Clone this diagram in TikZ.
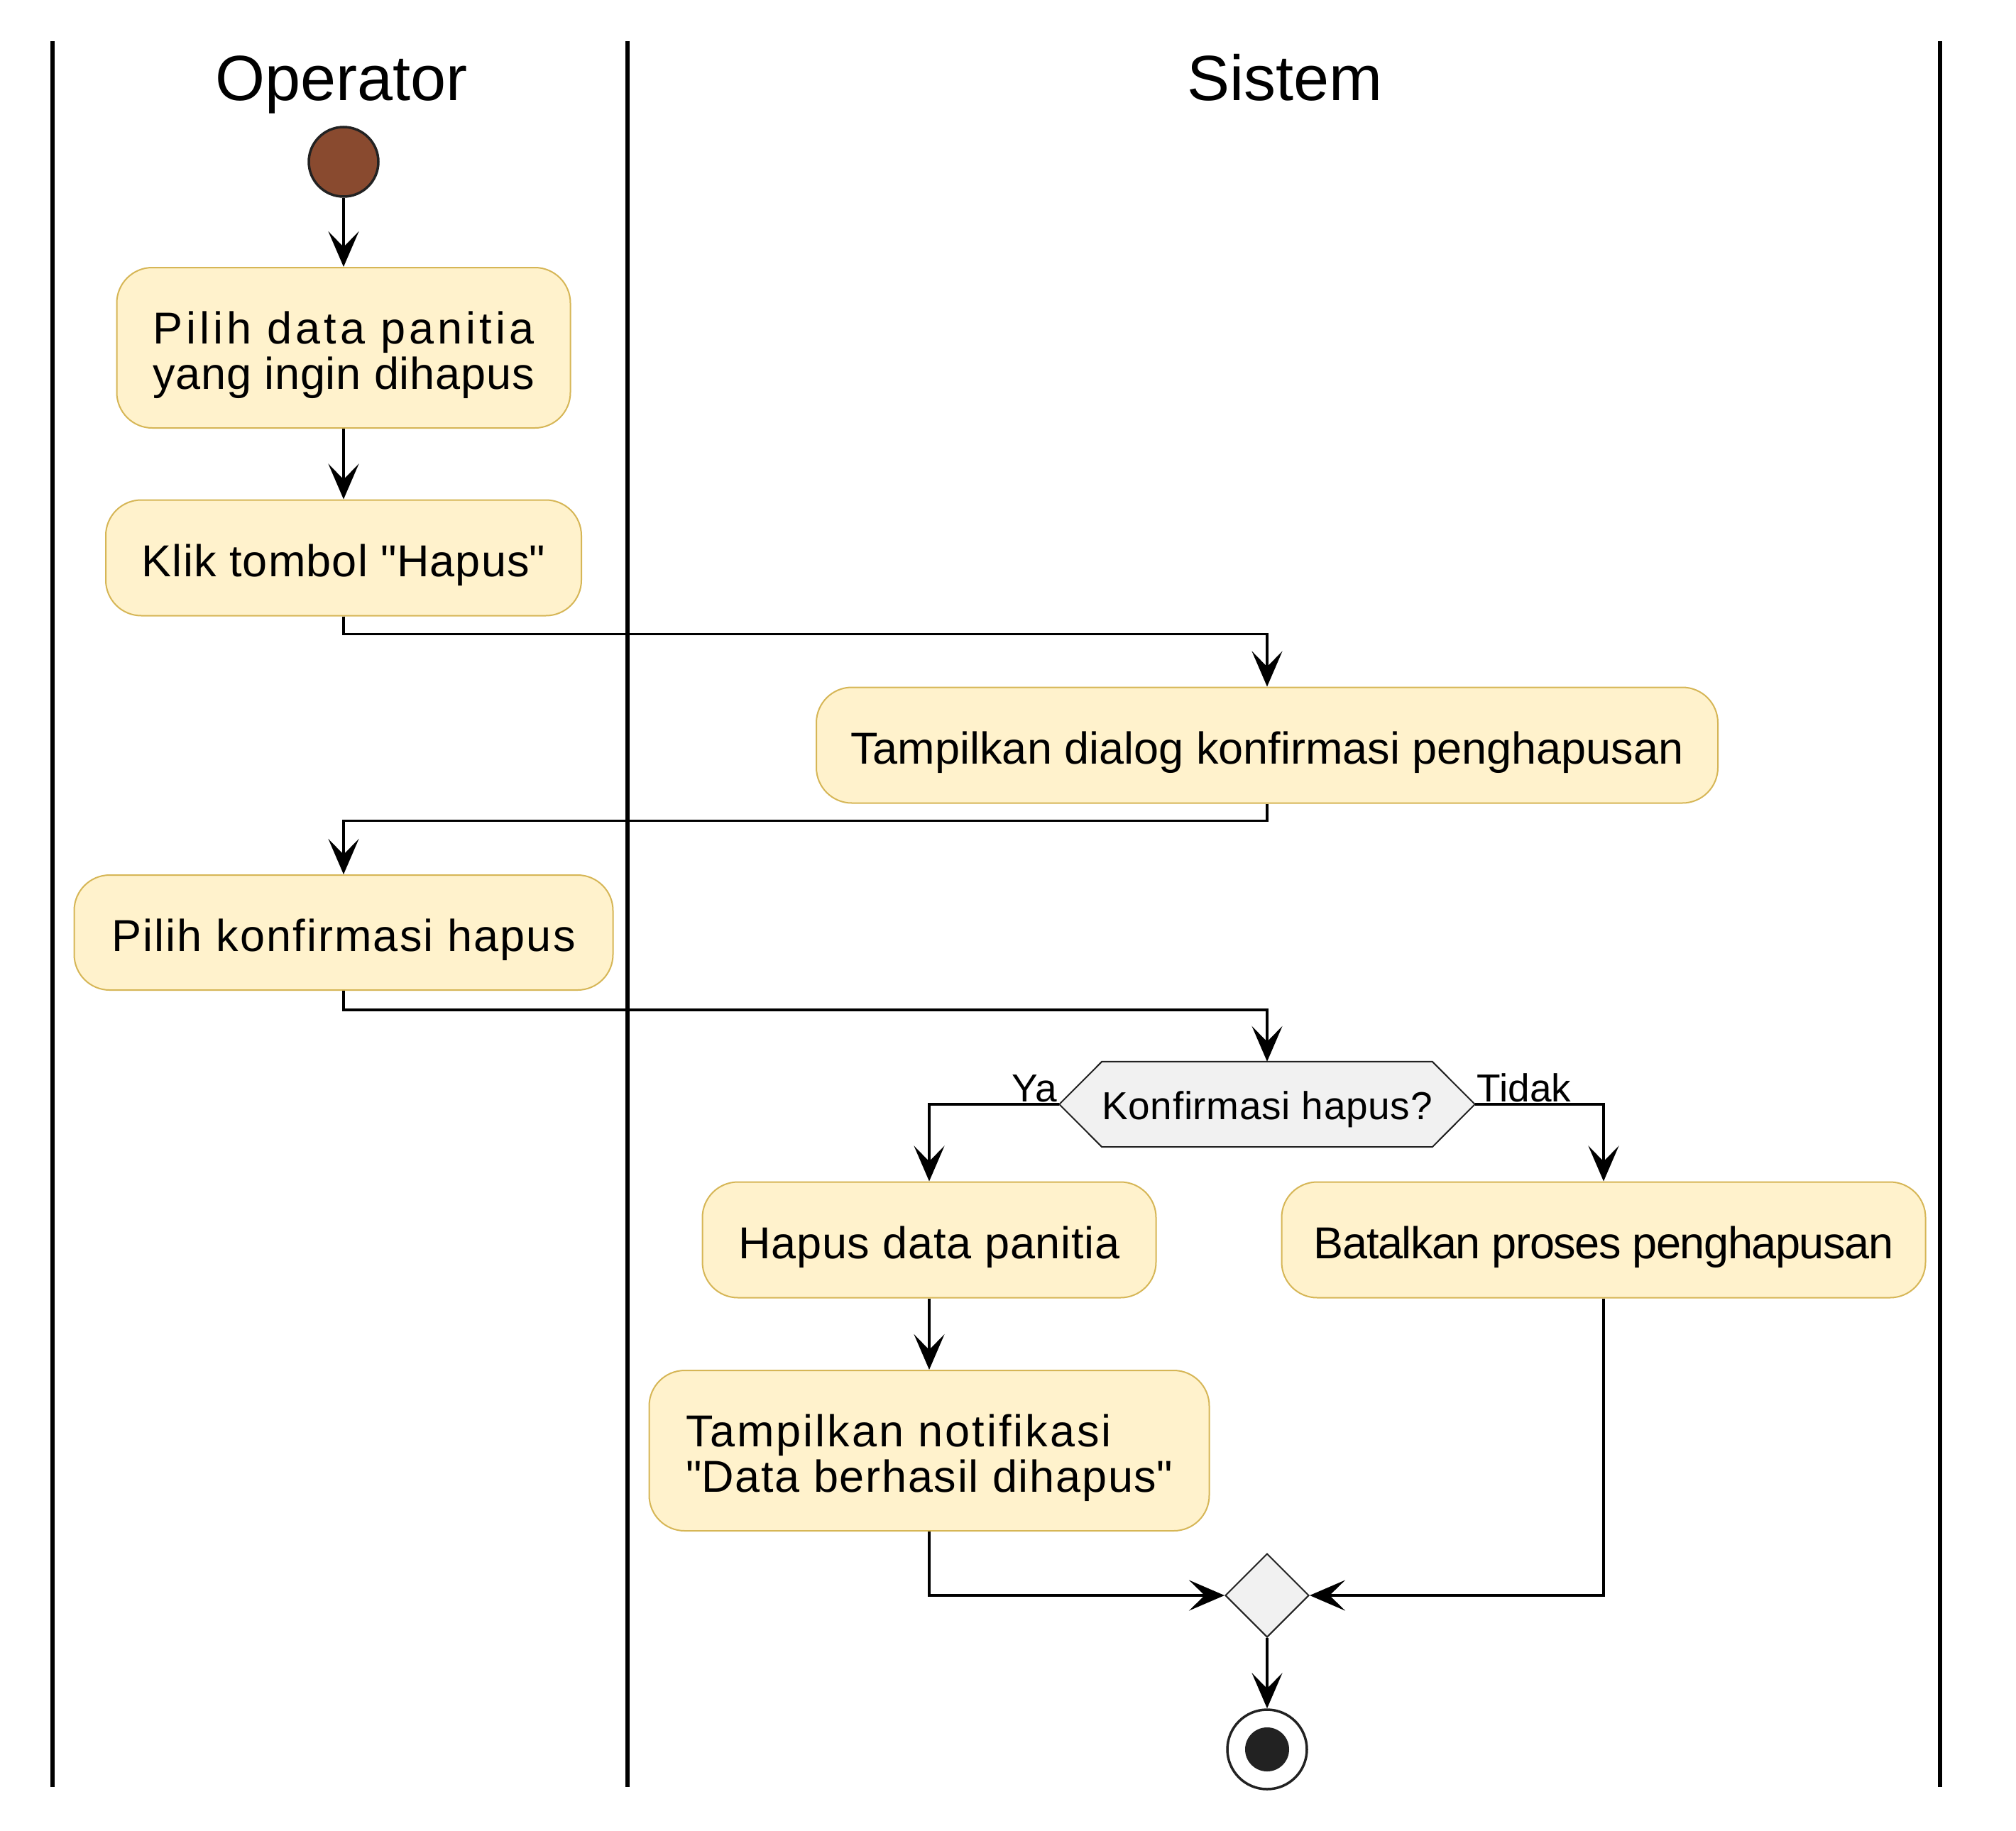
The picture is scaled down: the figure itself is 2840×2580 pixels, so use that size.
\documentclass[tikz,border=0pt]{standalone}
\usepackage{fontspec}
\setmainfont{Liberation Sans}
\newfontfamily\nomapfont{Liberation Sans}
\usetikzlibrary{arrows.meta,shapes.geometric,backgrounds}
\definecolor{actfill}{HTML}{FFF2CC}
\definecolor{actdraw}{HTML}{D6B656}
\definecolor{decfill}{HTML}{F1F1F1}
\definecolor{startfill}{RGB}{137,74,47}
\definecolor{dark}{HTML}{222222}
\newcommand{\lsp}[2]{{\addfontfeature{LetterSpace=#1}#2}}
\newcommand{\dq}{{\nomapfont"}}
\begin{document}
\begin{tikzpicture}[x=1pt,y=-1pt,
  actbox/.style={draw=actdraw, fill=actfill, line width=2pt, rounded corners=50pt, inner sep=0pt},
  acttext/.style={inner sep=0pt, font=\fontsize{63}{64}\selectfont, align=center},
  act/.style={actbox, acttext, execute at begin node={\rule{0pt}{66pt}}},
  arr/.style={line width=3.5pt, -{Stealth[length=50pt,width=43pt,inset=22pt]}},
  lane/.style={line width=6pt},
  head/.style={font=\fontsize{90}{100}\selectfont, anchor=base},
  lbl/.style={font=\fontsize{55}{60}\selectfont, inner sep=3pt}
]
\begin{scope}[on background layer]
\fill[white] (0,0) rectangle (2840,2580);
\end{scope}
\useasboundingbox (0,0) rectangle (2840,2580);

% swimlanes
\draw[lane] (74,58) -- (74,2518);
\draw[lane] (884,58) -- (884,2518);
\draw[lane] (2733,58) -- (2733,2518);
\node[head] (hop) at (481,141) {Operator};
\node[head] (hsys) at (1810,141) {Sistem};

% nodes
\node[circle, draw=dark, line width=3.5pt, fill=startfill, minimum size=98pt, inner sep=0pt] (start) at (484,228) {};
\node[actbox, minimum width=639pt, minimum height=226pt] (b1) at (484,490) {};
\node[acttext] (b1t) at ([yshift=-10pt]b1.center)
  {\lsp{7.9}{Pilih data panitia}\\\lsp{1.3}{yang ingin dihapus}};
\node[act, minimum width=670pt, minimum height=163pt] (b2) at (484,786) {\lsp{1.8}{Klik tombol \dq Hapus\dq}};
\node[act, minimum width=1270pt, minimum height=163pt] (b3) at (1785,1050) {Tampilkan dialog konfirmasi penghapusan};
\node[act, minimum width=759pt, minimum height=162pt] (b4) at (484,1314) {\lsp{3.4}{Pilih konfirmasi hapus}};
\node[minimum width=585pt, minimum height=120pt, inner sep=0pt, font=\fontsize{55}{60}\selectfont,
  execute at begin node={\rule{0pt}{54pt}}] (dec) at (1785,1556) {\lsp{1.2}{Konfirmasi hapus?}};
\begin{scope}[on background layer]
\draw[draw=dark, fill=decfill, line width=2pt]
  (dec.west) -- ([xshift=60pt]dec.north west) -- ([xshift=-60pt]dec.north east) -- (dec.east)
  -- ([xshift=-60pt]dec.south east) -- ([xshift=60pt]dec.south west) -- cycle;
\end{scope}
\node[lbl, anchor=south east] (ya) at (dec.west) {Ya};
\node[lbl, anchor=south west] (tidak) at (dec.east) {Tidak};
\node[act, minimum width=639pt, minimum height=163pt] (b6) at (1309,1747) {\lsp{1.3}{Hapus data panitia}};
\node[act, minimum width=907pt, minimum height=163pt] (b7) at (2259,1747) {\lsp{-2.3}{Batalkan proses penghapusan}};
\node[actbox, minimum width=789pt, minimum height=226pt] (b8) at (1309,2044) {};
\node[acttext, align=left] (b8t) at ([yshift=-10pt]b8.center)
  {\lsp{4.7}{Tampilkan notifikasi}\\\lsp{2.8}{\dq Data berhasil dihapus\dq}};
\node[diamond, draw=dark, fill=decfill, line width=2pt, minimum width=118pt, minimum height=118pt, inner sep=0pt] (m) at (1785,2248) {};
\node[circle, draw=dark, line width=3.5pt, fill=white, minimum size=112pt, inner sep=0pt] (endo) at (1785,2465) {};
\node[circle, fill=dark, minimum size=62pt, inner sep=0pt] (endi) at (endo) {};

% connectors
\draw[arr] (start.south) -- (b1.north);
\draw[arr] (b1.south) -- (b2.north);
\draw[arr] (b2.south) -- ++(0,25) -| (b3.north);
\draw[arr] (b3.south) -- ++(0,24) -| (b4.north);
\draw[arr] (b4.south) -- ++(0,27) -| (dec.north);
\draw[arr] (dec.west) -| (b6.north);
\draw[arr] (dec.east) -| (b7.north);
\draw[arr] (b6.south) -- (b8.north);
\draw[arr] (b8.south) |- (m.west);
\draw[arr] (b7.south) |- (m.east);
\draw[arr] (m.south) -- (endo.north);
\end{tikzpicture}
\end{document}
